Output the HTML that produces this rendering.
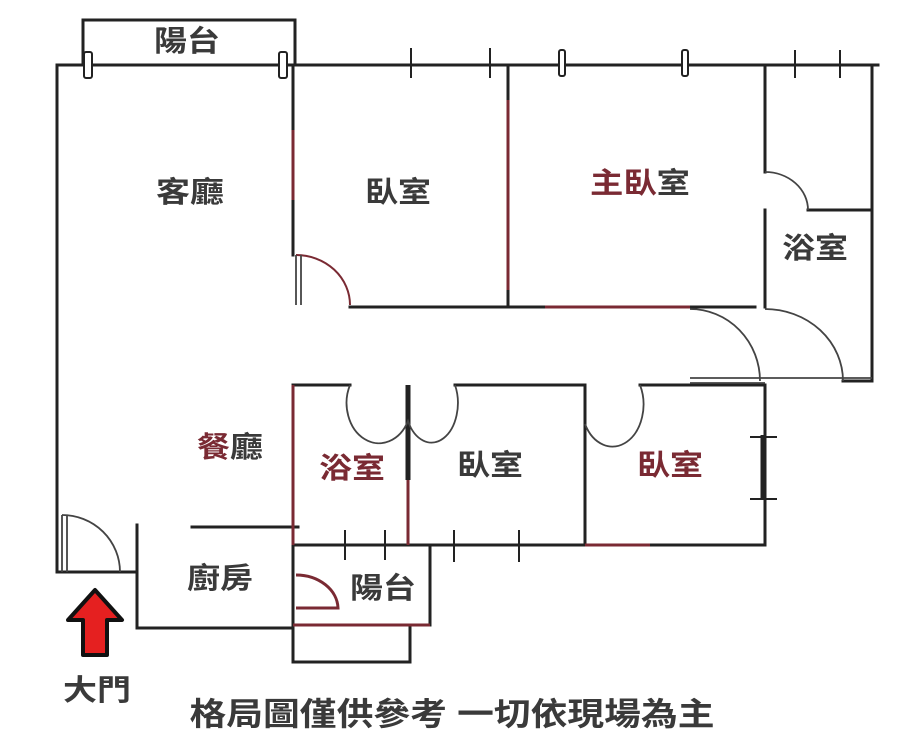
<!DOCTYPE html>
<html><head><meta charset="utf-8"><style>
html,body{margin:0;padding:0;background:#fff;}
svg{display:block;}
text{font-family:"Liberation Sans","Noto Sans CJK TC",sans-serif;font-size:29px;font-weight:bold;fill:#3a3a3a;text-anchor:middle;dominant-baseline:central;}
.r{fill:#7a2a33;}
</style></head><body>
<svg width="900" height="746" viewBox="0 0 900 746" xmlns="http://www.w3.org/2000/svg">
<g fill="none" stroke="#222" stroke-width="3" stroke-linecap="square">
<polyline points="83,65 83,20 295,20 295,65"/>
<line x1="57" y1="65" x2="878" y2="65"/>
<line x1="57" y1="65" x2="57" y2="572"/>
<line x1="293" y1="65" x2="293" y2="255"/>
<line x1="350" y1="307" x2="755" y2="307"/>
<line x1="508" y1="65" x2="508" y2="307"/>
<line x1="765" y1="65" x2="765" y2="172"/>
<line x1="765" y1="210" x2="765" y2="307"/>
<line x1="808" y1="210" x2="872" y2="210"/>
<line x1="872" y1="65" x2="872" y2="381"/>
<line x1="843" y1="381" x2="872" y2="381"/>
<line x1="293" y1="385" x2="350" y2="385"/>
<line x1="455" y1="385" x2="585" y2="385"/>
<line x1="640" y1="385" x2="765" y2="385"/>
<line x1="293" y1="385" x2="293" y2="662"/>
<line x1="585" y1="385" x2="585" y2="545"/>
<line x1="765" y1="385" x2="765" y2="545"/>
<line x1="293" y1="545" x2="765" y2="545"/>
<line x1="430" y1="545" x2="430" y2="625"/>
<line x1="293" y1="625" x2="430" y2="625"/>
<polyline points="410,625 410,662 293,662"/>
<line x1="192" y1="527" x2="298" y2="527"/>
<line x1="137" y1="525" x2="137" y2="628"/>
<line x1="137" y1="628" x2="293" y2="628"/>
<line x1="57" y1="572" x2="137" y2="572"/>
</g>
<line x1="408" y1="385" x2="408" y2="480" stroke="#222" stroke-width="5"/>
<line x1="408" y1="480" x2="408" y2="545" stroke="#222" stroke-width="3"/>
<line x1="763" y1="435" x2="763" y2="500" stroke="#222" stroke-width="5"/>
<g stroke="#7a2a33" stroke-width="3" fill="none">
<line x1="293" y1="130" x2="293" y2="200"/>
<line x1="508" y1="100" x2="508" y2="290"/>
<line x1="545" y1="307" x2="690" y2="307"/>
<line x1="293" y1="385" x2="293" y2="545"/>
<line x1="408" y1="480" x2="408" y2="545"/>
<line x1="293" y1="625" x2="430" y2="625"/>
<line x1="585" y1="545" x2="650" y2="545"/>
<path d="M296,255 A54,50 0 0 1 350,305" stroke-width="2"/>
<path d="M296,575 A42,34 0 0 1 338,608 L296,608"/>
</g>
<g stroke="#444" stroke-width="1.8" fill="none">
<line x1="296" y1="255" x2="296" y2="305"/>
<line x1="301" y1="255" x2="301" y2="305"/>
<path d="M690,309 A70,72 0 0 1 760,381"/>
<path d="M765,309 A78,72 0 0 1 843,381"/>
<line x1="690" y1="378" x2="872" y2="378"/>
<line x1="690" y1="383" x2="765" y2="383"/>
<path d="M765,172 A43,38 0 0 1 808,210"/>
<path d="M350,385 A29,36 0 0 0 408,421 A24,36 0 0 0 455,385"/>
<path d="M585,424 A28,38 0 0 0 640,385"/>
<line x1="62" y1="515" x2="62" y2="572"/>
<line x1="67" y1="515" x2="67" y2="572"/>
<path d="M62,515 A58,57 0 0 1 120,572"/>
</g>
<g stroke="#222" stroke-width="2" fill="#fff">
<rect x="84" y="52" width="8" height="26" rx="2"/>
<rect x="279" y="52" width="8" height="26" rx="2"/>
<rect x="559" y="50" width="6" height="26" rx="2"/>
<rect x="682" y="50" width="6" height="26" rx="2"/>
<line x1="411" y1="48" x2="411" y2="78"/>
<line x1="490" y1="48" x2="490" y2="78"/>
<line x1="795" y1="50" x2="795" y2="78"/>
<line x1="840" y1="50" x2="840" y2="78"/>
<line x1="345" y1="530" x2="345" y2="560"/>
<line x1="385" y1="530" x2="385" y2="560"/>
<line x1="454" y1="530" x2="454" y2="562"/>
<line x1="519" y1="530" x2="519" y2="562"/>
<line x1="750" y1="437" x2="777" y2="437"/>
<line x1="750" y1="499" x2="777" y2="499"/>
</g>
<path d="M95,590 L122,620 L107,620 L107,655 L83,655 L83,620 L68,620 Z" fill="#e52020" stroke="#111" stroke-width="4" stroke-linejoin="round"/>
<text x="187" y="42" textLength="66" lengthAdjust="spacingAndGlyphs">陽台</text>
<text x="190" y="193" textLength="68" lengthAdjust="spacingAndGlyphs">客廳</text>
<text x="398" y="193" textLength="66" lengthAdjust="spacingAndGlyphs">臥室</text>
<text x="640" y="184" textLength="100" lengthAdjust="spacingAndGlyphs"><tspan class="r">主臥</tspan>室</text>
<text x="815" y="249" textLength="66" lengthAdjust="spacingAndGlyphs">浴室</text>
<text x="230" y="448" textLength="66" lengthAdjust="spacingAndGlyphs"><tspan class="r">餐</tspan>廳</text>
<text x="352" y="469" class="r" textLength="66" lengthAdjust="spacingAndGlyphs">浴室</text>
<text x="490" y="466" textLength="66" lengthAdjust="spacingAndGlyphs">臥室</text>
<text x="670" y="466" class="r" textLength="66" lengthAdjust="spacingAndGlyphs">臥室</text>
<text x="220" y="579" textLength="66" lengthAdjust="spacingAndGlyphs">廚房</text>
<text x="383" y="589" textLength="66" lengthAdjust="spacingAndGlyphs">陽台</text>
<text x="97" y="691" textLength="68" lengthAdjust="spacingAndGlyphs">大門</text>
<text x="452" y="714" style="font-size:32px" textLength="525" lengthAdjust="spacingAndGlyphs">格局圖僅供參考 一切依現場為主</text>
</svg>
</body></html>
